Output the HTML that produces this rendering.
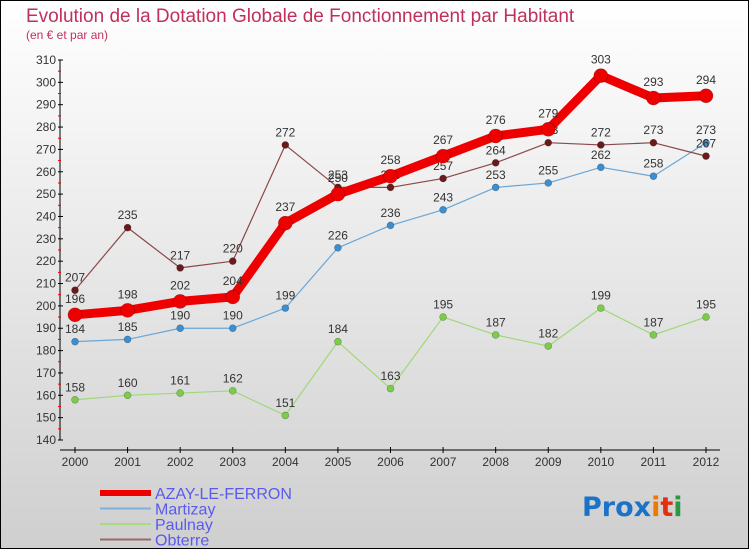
<!DOCTYPE html>
<html><head><meta charset="utf-8"><style>
html,body{margin:0;padding:0}
body{width:750px;height:550px;overflow:hidden;font-family:"Liberation Sans",sans-serif}
</style></head><body>
<svg id="chart" width="750" height="550" xmlns="http://www.w3.org/2000/svg">
<defs><linearGradient id="bg" x1="0" y1="0" x2="0" y2="1"><stop offset="0" stop-color="#ffffff"/><stop offset="1" stop-color="#cfcfcf"/></linearGradient></defs>
<rect x="0.5" y="0.5" width="748" height="548" fill="url(#bg)" stroke="#000"/>
<text x="26" y="22" font-size="19" fill="#c0305a">Evolution de la Dotation Globale de Fonctionnement par Habitant</text>
<text x="26" y="39" font-size="12" fill="#c0305a">(en € et par an)</text>
<g id="axes"></g><g id="series"></g>
<g id="legend"></g>
<text x="582" y="516" font-size="27" font-family="DejaVu Sans, sans-serif" font-weight="bold"><tspan fill="#1a73c9">Pro</tspan><tspan fill="#1a73c9">x</tspan><tspan fill="#f07800">i</tspan><tspan fill="#e03010">t</tspan><tspan fill="#2a9a40">i</tspan></text>
</svg>
<script>
const years=[2000,2001,2002,2003,2004,2005,2006,2007,2008,2009,2010,2011,2012];
const yTicks=[140,150,160,170,180,190,200,210,220,230,240,250,260,270,280,290,300,310];
const azay=[196,198,202,204,237,250,258,267,276,279,303,293,294];
const martizay=[184,185,190,190,199,226,236,243,253,255,262,258,273];
const paulnay=[158,160,161,162,151,184,163,195,187,182,199,187,195];
const obterre=[207,235,217,220,272,253,253,257,264,273,272,273,267];
const NS="http://www.w3.org/2000/svg";
function X(i){return 75+i*(706-75)/(years.length-1);}
function Y(v){return 440-(v-140)*380/170;}
function mk(t,a,p){const e=document.createElementNS(NS,t);for(const k in a)e.setAttribute(k,a[k]);p.appendChild(e);return e;}
const ax=document.getElementById('axes');
let l=mk('line',{x1:60,y1:Y(310),x2:60,y2:Y(140),stroke:'#000'},ax);


l=mk('line',{x1:60,y1:450,x2:720,y2:450,stroke:'#000'},ax);


yTicks.forEach(v=>{
 mk('line',{x1:58,x2:63,y1:Y(v),y2:Y(v),stroke:'#000'},ax);
 if(v<310)mk('line',{x1:58,x2:61,y1:Y(v+5),y2:Y(v+5),stroke:'#e00'},ax);
 const t=mk('text',{x:56,y:Y(v)+4,'text-anchor':'end','font-size':12,fill:'#333'},ax);t.textContent=v;
 
 
});
years.forEach((yr,i)=>{
 mk('line',{x1:X(i),x2:X(i),y1:447,y2:453,stroke:'#000'},ax);
 const t=mk('text',{x:X(i),y:466,'text-anchor':'middle','font-size':12,fill:'#333'},ax);t.textContent=yr;
 
 
});
const sg=document.getElementById('series');
function draw(name,data,color,w,r,dot,below){
 const g=mk('g',{},sg);
 
 
 mk('polyline',{points:data.map((v,i)=>X(i)+','+Y(v)).join(' '),fill:'none',stroke:color,'stroke-width':w,'stroke-linejoin':'round'},g);
 data.forEach((v,i)=>{
  const c=mk('circle',{cx:X(i),cy:Y(v),r:r,fill:dot,stroke:'rgba(0,0,0,0.3)','stroke-width':0.6},g);
  
  
  const t=mk('text',{x:X(i),y:Y(v)-(r+5),'text-anchor':'middle','font-size':12,fill:'#333'},g);t.textContent=v;
  
  
 });
}
draw('paulnay',paulnay,'#9fd878',1.2,3.5,'#7ccc4a');
draw('martizay',martizay,'#6aa6d6',1.2,3.5,'#3b8fd0');
draw('obterre',obterre,'#8a4848',1.2,3.5,'#6a1a1a');
draw('azay',azay,'#ee0000',9,7,'#ee0000');
const lg=document.getElementById('legend');
const items=[['AZAY-LE-FERRON','#ee0000',6],['Martizay','#7fb0d8',2],['Paulnay','#a8dc80',2],['Obterre','#9a6a6a',2]];
items.forEach((it,i)=>{
 const y=493+i*15.5;
 const ln=mk('line',{x1:100,x2:151,y1:y,y2:y,stroke:it[1],'stroke-width':it[2]},lg);
 
 
 const t=mk('text',{x:155,y:y+6,'font-size':16,fill:'#5a5aee'},lg);t.textContent=it[0];
 
 
});
</script>
</body></html>
